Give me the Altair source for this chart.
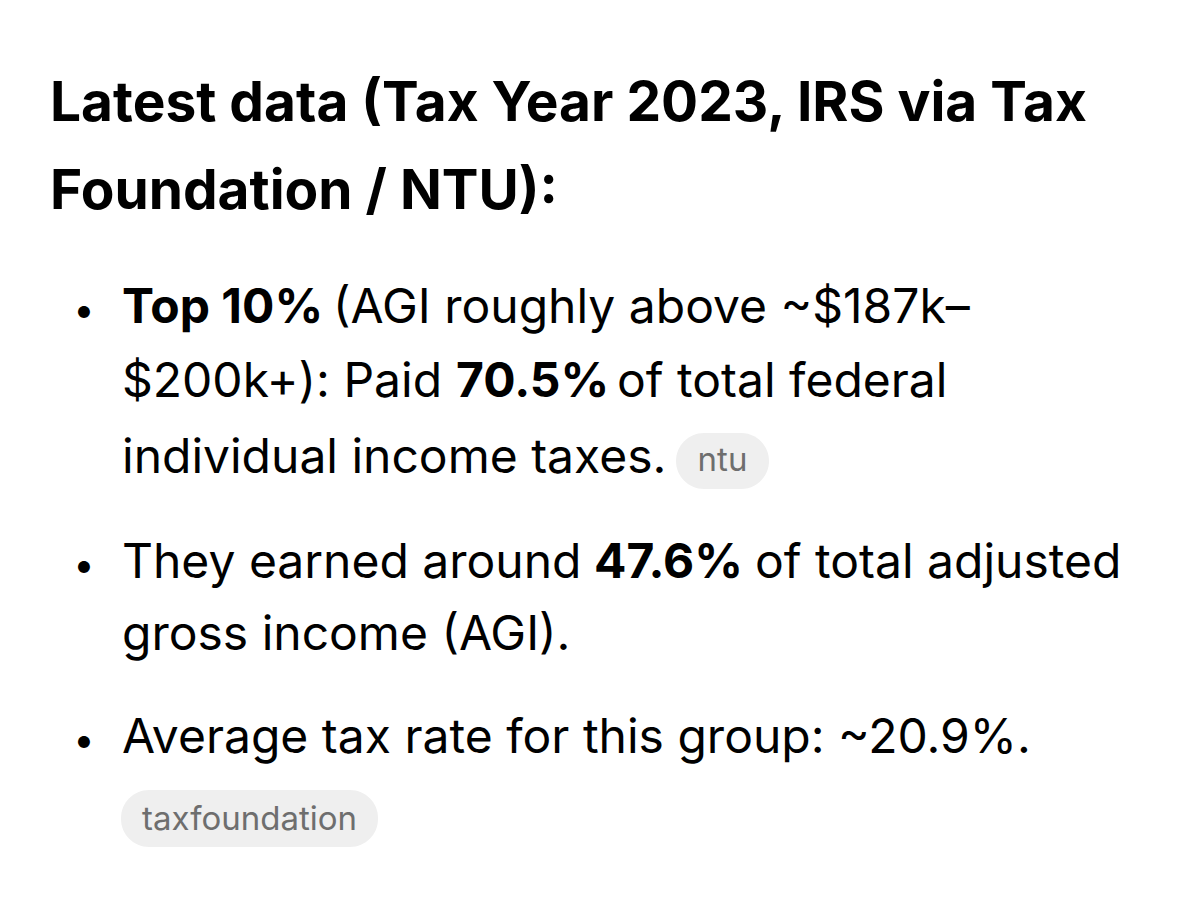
import altair as alt
import pandas as pd

# --- content ---
texts = [
    "Latest data (Tax Year 2023, IRS via Tax",
    "Foundation / NTU):",
    "Top 10%",
    "(AGI roughly above ~$187k–",
    "$200k+): Paid",
    "70.5%",
    "of total federal",
    "individual income taxes.",
    "They earned around",
    "47.6%",
    "of total adjusted",
    "gross income (AGI).",
    "Average tax rate for this group: ~20.9%.",
]
roles = ["title", "title", "bold", "normal", "normal", "bold", "normal", "normal",
         "normal", "bold", "normal", "normal", "normal"]
pill_labels = ["ntu", "taxfoundation"]

# --- layout (page pixels) ---
text_x = [50, 50, 122, 333, 122, 456, 617, 122, 122, 594, 755, 122, 122]
text_y = [121, 209, 323, 323, 397, 397, 397, 473, 578, 578, 578, 650, 753]
bullet_x = [84, 84, 84]
bullet_y = [323, 578, 753]
pill_x1 = [676, 121]
pill_x2 = [769, 378]
pill_y1 = [433, 790]
pill_y2 = [489, 847]
pill_base = [471, 830]

W, H = 1184, 904
xs = alt.Scale(domain=[8, 8 + W], nice=False, zero=False)
ys = alt.Scale(domain=[8, 8 + H], nice=False, zero=False, reverse=True)
noax = None

df = pd.DataFrame({"t": texts, "role": roles, "x": text_x, "y": text_y})
bul = pd.DataFrame({"t": ["•"] * 3, "x": bullet_x, "y": bullet_y})
pills = pd.DataFrame({
    "label": pill_labels, "x1": pill_x1, "x2": pill_x2, "y1": pill_y1, "y2": pill_y2,
    "yb": pill_base,
})
pills["cx"] = (pills.x1 + pills.x2) / 2

FONT = "Inter"
TS, BS = 55, 48

def X(f="x"):
    return alt.X(f"{f}:Q", scale=xs, axis=noax)

def Y(f="y"):
    return alt.Y(f"{f}:Q", scale=ys, axis=noax)

title = alt.Chart(df).transform_filter(alt.datum.role == "title").mark_text(
    font=FONT, fontSize=TS, fontWeight=700, align="left", baseline="alphabetic", color="#000000"
).encode(x=X(), y=Y(), text="t:N")

bold = alt.Chart(df).transform_filter(alt.datum.role == "bold").mark_text(
    font=FONT, fontSize=BS, fontWeight=700, align="left", baseline="alphabetic", color="#000000"
).encode(x=X(), y=Y(), text="t:N")

normal = alt.Chart(df).transform_filter(alt.datum.role == "normal").mark_text(
    font=FONT, fontSize=BS, fontWeight=400, align="left", baseline="alphabetic", color="#000000"
).encode(x=X(), y=Y(), text="t:N")

bullets = alt.Chart(bul).mark_text(
    font=FONT, fontSize=38, align="center", baseline="alphabetic", color="#000000"
).encode(x=X(), y=Y(), text="t:N")

pill_bg = alt.Chart(pills).mark_rect(color="#efefef", cornerRadius=28).encode(
    x=X("x1"), x2="x2:Q", y=Y("y1"), y2="y2:Q"
)
pill_txt = alt.Chart(pills).mark_text(
    font=FONT, fontSize=33, align="center", baseline="alphabetic", color="#6e6e6e"
).encode(x=X("cx"), y=Y("yb"), text="label:N")

chart = alt.layer(pill_bg, pill_txt, title, bold, normal, bullets).properties(
    width=W, height=H, padding=0, autosize=alt.AutoSizeParams(type="none"),
    background="#ffffff",
).configure_view(stroke=None)

chart.save("out.html", embed_options={"renderer": "svg", "actions": False})
